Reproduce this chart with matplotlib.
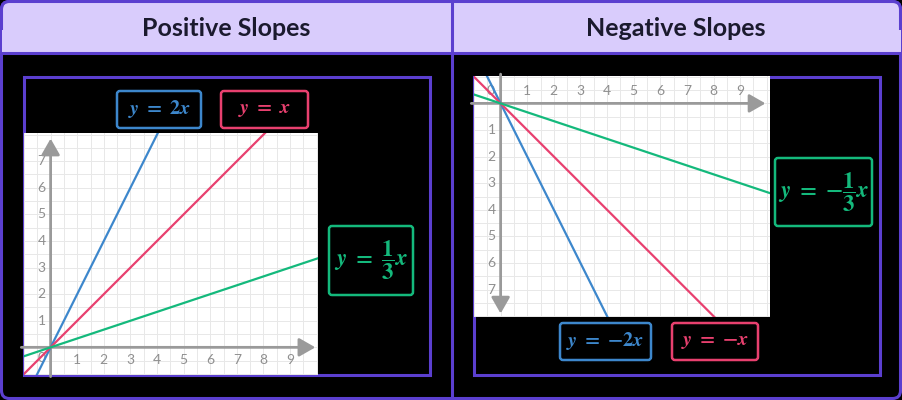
import matplotlib
matplotlib.use("Agg")
import matplotlib.pyplot as plt
import numpy as np
from matplotlib.patches import FancyBboxPatch, Rectangle

plt.rcParams['mathtext.fontset'] = 'stix'

# ---- data ----
titles = ["Positive Slopes", "Negative Slopes"]
pos_slopes = [2, 1, 1/3]
neg_slopes = [-2, -1, -1/3]
line_colors = ["#3d87cc", "#e8406f", "#14b97c"]
pos_labels = [r"$\boldsymbol{y}\ \mathbf{=}\ \mathbf{2}\boldsymbol{x}$",
              r"$\boldsymbol{y}\ \mathbf{=}\ \boldsymbol{x}$",
              r"$\boldsymbol{y}\ \mathbf{=}\ \dfrac{\mathbf{1}}{\mathbf{3}}\boldsymbol{x}$"]
neg_labels = [r"$\boldsymbol{y}\ \mathbf{=}\ \mathbf{-2}\boldsymbol{x}$",
              r"$\boldsymbol{y}\ \mathbf{=}\ \mathbf{-}\boldsymbol{x}$",
              r"$\boldsymbol{y}\ \mathbf{=}\ \mathbf{-}\dfrac{\mathbf{1}}{\mathbf{3}}\boldsymbol{x}$"]
x_ticks = [1, 2, 3, 4, 5, 6, 7, 8, 9]
y_ticks = [1, 2, 3, 4, 5, 6, 7]

PURPLE = "#5b3fcf"
HEADER = "#d9ccfc"
GRID = "#e8e8e8"
AXC = "#9a9a9a"
TICKC = "#8f8f8f"

W, H = 902, 400
fig = plt.figure(figsize=(W/100, H/100), dpi=100, facecolor="black")
bg = fig.add_axes([0, 0, 1, 1])
bg.set_xlim(0, W); bg.set_ylim(H, 0); bg.axis("off")
bg.set_facecolor("black")

# outer frame + headers
bg.add_patch(FancyBboxPatch((1.5, 1.5), W-3, H-3, boxstyle="round,pad=0,rounding_size=8",
                            fc="black", ec=PURPLE, lw=2.2, zorder=1))
bg.add_patch(FancyBboxPatch((1.5, 1.5), W-3, 51, boxstyle="round,pad=0,rounding_size=8",
                            fc=HEADER, ec=PURPLE, lw=2.2, zorder=2))
bg.add_patch(Rectangle((1.5, 30), W-3, 22.5, fc=HEADER, ec="none", zorder=2))
bg.plot([0, W], [52.5, 52.5], color=PURPLE, lw=2.2, zorder=3)
bg.plot([451.5, 451.5], [0, H], color=PURPLE, lw=2.2, zorder=3)
for t, cx in zip(titles, [226, 676]):
    bg.text(cx, 28, t, ha="center", va="center", fontsize=18, fontweight="bold",
            family="Lato", color="#1b1a2e", zorder=4)

# inner boxes
bg.add_patch(Rectangle((23.5, 76.5), 406, 298, fc="none", ec=PURPLE, lw=2.2, zorder=5))
bg.add_patch(Rectangle((473.5, 76.5), 406, 298, fc="none", ec=PURPLE, lw=2.2, zorder=5))

def label_box(x0, y0, x1, y1, txt, col, fs=14.5):
    bg.add_patch(FancyBboxPatch((x0, y0), x1-x0, y1-y0, boxstyle="round,pad=0,rounding_size=3",
                                fc="black", ec=col, lw=1.8, zorder=6))
    bg.text((x0+x1)/2, (y0+y1)/2, txt, ha="center", va="center", fontsize=fs,
            color=col, zorder=7)

label_box(117, 91, 201, 128, pos_labels[0], line_colors[0])
label_box(221, 91, 308, 128, pos_labels[1], line_colors[1])
label_box(329, 226, 413, 295, pos_labels[2], line_colors[2], fs=16.5)
label_box(775, 158, 872, 226, neg_labels[2], line_colors[2], fs=16.5)
label_box(560, 323, 651, 360, neg_labels[0], line_colors[0])
label_box(672, 323, 758, 360, neg_labels[1], line_colors[1])

def make_axes(l, t, r, b):
    return fig.add_axes([l/W, 1-b/H, (r-l)/W, (b-t)/H])

def grid(ax, xl, yl):
    for gx in np.arange(-1.0, xl[1]+0.01, 0.5):
        ax.axvline(gx, color=GRID, lw=0.7, zorder=1)
    for gy in np.arange(-8.0, 8.5, 0.5):
        ax.axhline(gy, color=GRID, lw=0.7, zorder=1)
    ax.set_xlim(*xl); ax.set_ylim(*yl)
    ax.set_facecolor("white")
    ax.set_xticks([]); ax.set_yticks([])
    for s in ax.spines.values():
        s.set_visible(False)

arrow_kw = dict(arrowstyle="-|>,head_length=0.7,head_width=0.4", color=AXC, lw=2,
                mutation_scale=14, shrinkA=0, shrinkB=0)
tk = dict(ha="center", va="center", fontsize=10, color=TICKC, family="Lato", zorder=2)

# ---- left chart ----
axL = make_axes(24, 133, 318, 375)
grid(axL, (-1.0, 10.05), (-1.04, 8.06))
axL.annotate("", xy=(9.95, 0), xytext=(-1.1, 0), arrowprops=arrow_kw, zorder=3)
axL.annotate("", xy=(0, 7.85), xytext=(0, -1.1), arrowprops=arrow_kw, zorder=3)
for v in x_ticks:
    axL.text(v, -0.47, str(v), **tk)
for v in y_ticks:
    axL.text(-0.34, v, str(v), **tk)
axL.text(-0.34, -0.4, "0", **tk)
for m, c in zip(pos_slopes, line_colors):
    axL.axline((0, 0), slope=m, color=c, lw=1.6, zorder=4)

# ---- right chart ----
axR = make_axes(474, 76, 770, 317)
grid(axR, (-1.0, 10.12), (-8.03, 1.03))
axR.annotate("", xy=(9.95, 0), xytext=(-1.1, 0), arrowprops=arrow_kw, zorder=3)
axR.annotate("", xy=(0, -7.9), xytext=(0, 1.1), arrowprops=arrow_kw, zorder=3)
for v in x_ticks:
    axR.text(v, 0.47, str(v), **tk)
for v in y_ticks:
    axR.text(-0.34, -v, str(v), **tk)
axR.text(-0.38, 0.47, "0", **tk)
for m, c in zip(neg_slopes, line_colors):
    axR.axline((0, 0), slope=m, color=c, lw=1.6, zorder=4)

fig.savefig("out.png", dpi=100, facecolor="black")
